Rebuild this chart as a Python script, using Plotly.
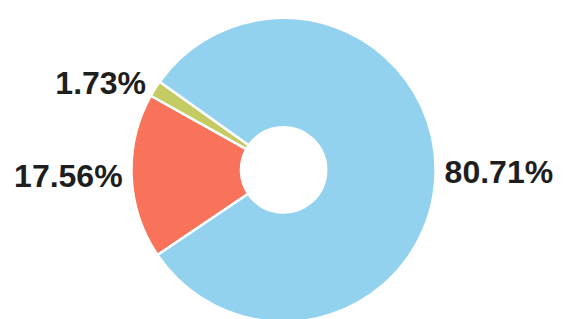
import plotly.graph_objects as go

labels = ["Red", "Green", "Blue"]
values = [17.56, 1.73, 80.71]
colors = ["#f9735a", "#c3cb62", "#93d2ee"]

W, H = 568, 319
fig = go.Figure(go.Pie(
    labels=labels,
    values=values,
    sort=False,
    direction="clockwise",
    rotation=236,
    hole=0.28,
    marker=dict(colors=colors, line=dict(color="white", width=2.5)),
    texttemplate="%{value:.2f}%",
    textposition="outside",
    textfont=dict(family="Liberation Sans, Arial", size=32, color="#1e1e1e", weight="bold"),
    showlegend=False,
    domain=dict(x=[120 / W, 428 / W], y=[1 - 318 / H, 1 - 10 / H]),
))
fig.update_layout(
    width=W, height=H,
    margin=dict(l=0, r=0, t=0, b=0),
    paper_bgcolor="white",
    plot_bgcolor="white",
)
fig.write_html("out.html")
